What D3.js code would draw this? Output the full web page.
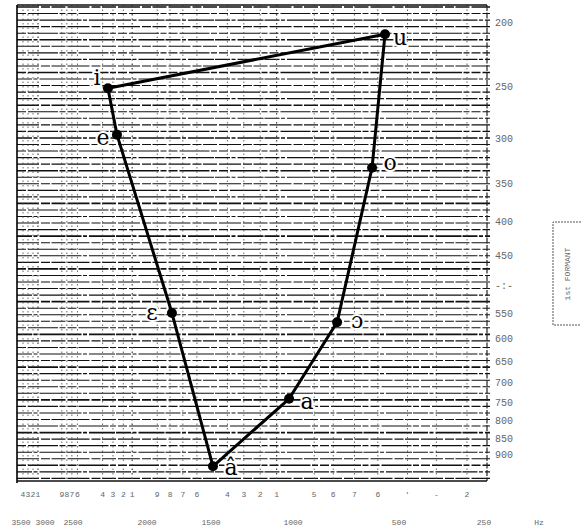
<!DOCTYPE html>
<html lang="en">
<head>
<meta charset="UTF-8">
<title>Vowel formant chart</title>
<script src="https://d3js.org/d3.v7.min.js"></script>
<style>
  body { margin: 0; background: #fff; }
  svg { display: block; }
  .typed { font-family: 'Liberation Mono', monospace; fill: #666; }
  .vowel { font-family: 'DejaVu Serif', serif; font-size: 22px; fill: #000; }
</style>
</head>
<body>
<script>
// vowel points (F2 horizontal, F1 vertical), in polygon order
const vowels = ["i", "e", "ε", "â", "a", "ɔ", "o", "u"];
const f2Values = [2264, 2203, 1805, 1488, 1024, 792, 627, 566];
const f1Values = [251, 295, 549, 936, 740, 567, 331, 208];

// axis labels
const f1Ticks = [200, 250, 300, 350, 400, 450, 500, 550, 600, 650, 700, 750, 800, 850, 900];
const f1TickText = ["200", "250", "300", "350", "400", "450", "-:-", "550", "600", "650", "700", "750", "800", "850", "900"];
const f2Ticks = [3500, 3000, 2500, 2000, 1500, 1000, 500, 250];
const digitText = ["4", "3", "2", "1", "9", "8", "7", "6", "4", "3", "2", "1", "9", "8", "7", "6", "4", "3", "2", "1", "5", "6", "7", "6", "'", "-", "2"];
const digitF2 = [3458, 3354, 3250, 3146, 2700, 2610, 2520, 2470, 2300, 2230, 2160, 2100, 1920, 1820, 1720, 1610, 1400, 1300, 1200, 1100, 900, 810, 710, 600, 475, 390, 300];

// label placement around each point
const labelOffset = {
  "i": [-11, -3], "e": [-14, 10], "ε": [-20, 7], "â": [18, 9],
  "a": [18, 10], "ɔ": [20, 6], "o": [18, 2], "u": [15, 11]
};

const width = 581, height = 532;
const plot = { left: 17, right: 487, top: 5, bottom: 481 };

const svg = d3.select("body").append("svg")
  .attr("width", width)
  .attr("height", height);

// chart paper: F2 along the typed marks, F1 on a log scale
const x = d3.scaleLinear()
  .domain(f2Ticks)
  .range([21, 45, 73, 147, 211, 293, 399, 484]);
const y = d3.scaleLog().domain([200, 900]).range([23, 455]);

// horizontal ruling, evenly spaced in log F1
const logTop = Math.log10(y.invert(plot.top + 2));
const rules = d3.range(0, 73).map(k => Math.pow(10, logTop + k * 0.0099));
svg.append("g").selectAll("line")
  .data(rules)
  .join("line")
  .attr("x1", plot.left)
  .attr("x2", plot.right + 3)
  .attr("y1", d => y(d))
  .attr("y2", d => y(d))
  .attr("stroke", "#111")
  .attr("stroke-width", (d, i) => i % 5 === 0 ? 1.6 : 1.1)
  .attr("stroke-dasharray", (d, i) => i % 3 === 0 ? "22,2,9,1.5,14,2" : i % 3 === 1 ? "9,2,30,1.5,6,2" : "15,1.5,4,2,26,1");

// vertical ruling at the typed marks
svg.append("g").selectAll("line")
  .data(digitF2)
  .join("line")
  .attr("x1", d => x(d))
  .attr("x2", d => x(d))
  .attr("y1", plot.top)
  .attr("y2", plot.bottom)
  .attr("stroke", "#444")
  .attr("stroke-width", (d, i) => digitText[i] === "1" ? 1.2 : 0.8)
  .attr("stroke-dasharray", "1.5,3");

// frame
svg.append("line").attr("x1", plot.left).attr("x2", plot.left)
  .attr("y1", plot.top).attr("y2", plot.bottom + 2)
  .attr("stroke", "#000").attr("stroke-width", 1.6);
svg.append("line").attr("x1", plot.right).attr("x2", plot.right)
  .attr("y1", plot.top).attr("y2", plot.bottom)
  .attr("stroke", "#222").attr("stroke-width", 1.2).attr("stroke-dasharray", "6,1.5");
svg.append("line").attr("x1", plot.left).attr("x2", plot.right)
  .attr("y1", plot.top).attr("y2", plot.top)
  .attr("stroke", "#111").attr("stroke-width", 1.4);
svg.append("line").attr("x1", plot.left).attr("x2", plot.right)
  .attr("y1", plot.bottom).attr("y2", plot.bottom)
  .attr("stroke", "#111").attr("stroke-width", 1.4);

// right F1 labels
svg.append("g").selectAll("text")
  .data(f1Ticks)
  .join("text")
  .attr("class", "typed")
  .attr("x", 495)
  .attr("y", d => y(d) + 3)
  .attr("font-size", 10)
  .text((d, i) => f1TickText[i]);

// digit row under the plot
svg.append("g").selectAll("text")
  .data(digitF2)
  .join("text")
  .attr("class", "typed")
  .attr("x", d => x(d))
  .attr("y", 497)
  .attr("text-anchor", "middle")
  .attr("font-size", 8)
  .text((d, i) => digitText[i]);

// Hz row
svg.append("g").selectAll("text")
  .data(f2Ticks)
  .join("text")
  .attr("class", "typed")
  .attr("x", d => x(d))
  .attr("y", 525)
  .attr("text-anchor", "middle")
  .attr("font-size", 8)
  .text(d => d);
svg.append("text").attr("class", "typed")
  .attr("x", 539).attr("y", 525)
  .attr("text-anchor", "middle").attr("font-size", 8)
  .text("Hz");

// "1st FORMANT" box
const box = svg.append("g");
box.append("path")
  .attr("d", "M584,222 H553 V325 H584")
  .attr("fill", "none")
  .attr("stroke", "#555")
  .attr("stroke-width", 1)
  .attr("stroke-dasharray", "2,1");
box.append("text")
  .attr("class", "typed")
  .attr("transform", "translate(570,274) rotate(-90)")
  .attr("text-anchor", "middle")
  .attr("font-size", 8)
  .text("1st FORMANT");

// vowel polygon
const pts = vowels.map((v, i) => ({ v, f2: f2Values[i], f1: f1Values[i] }));
const line = d3.line().x(d => x(d.f2)).y(d => y(d.f1)).curve(d3.curveLinearClosed);

svg.append("path")
  .datum(pts)
  .attr("d", line)
  .attr("fill", "none")
  .attr("stroke", "#000")
  .attr("stroke-width", 3)
  .attr("stroke-linejoin", "round");

svg.append("g").selectAll("circle")
  .data(pts)
  .join("circle")
  .attr("cx", d => x(d.f2))
  .attr("cy", d => y(d.f1))
  .attr("r", 5)
  .attr("fill", "#000");

// handwritten vowel labels, with a white halo over the ruling
svg.append("g").selectAll("text")
  .data(pts)
  .join("text")
  .attr("class", "vowel")
  .attr("x", d => x(d.f2) + labelOffset[d.v][0])
  .attr("y", d => y(d.f1) + labelOffset[d.v][1])
  .attr("text-anchor", "middle")
  .attr("stroke", "#fff")
  .attr("stroke-width", 4)
  .attr("paint-order", "stroke")
  .text(d => d.v);
</script>
</body>
</html>
